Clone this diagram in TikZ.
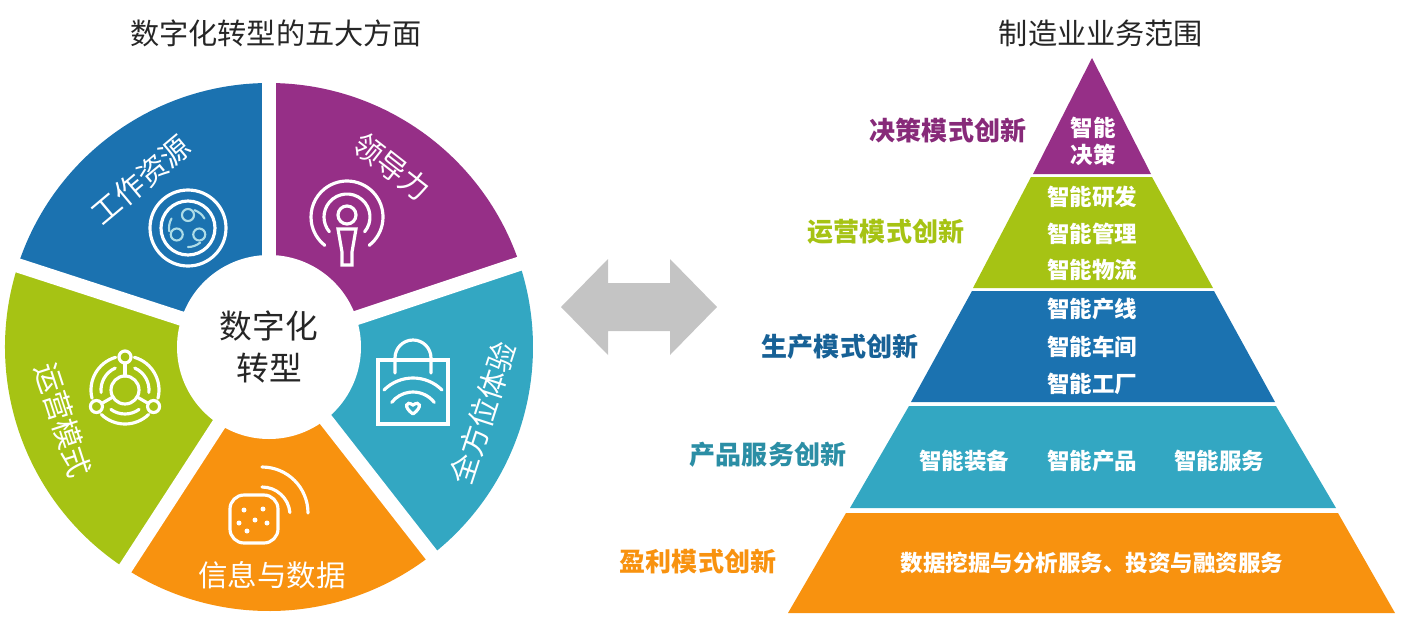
\documentclass[tikz,border=0pt]{standalone}
\usepackage{fontspec}
\setmainfont{Noto Sans CJK SC}
\definecolor{pblue}{HTML}{1B72B0}
\definecolor{ppurple}{HTML}{962F87}
\definecolor{pcyan}{HTML}{33A7C2}
\definecolor{porange}{HTML}{F8920F}
\definecolor{pgreen}{HTML}{A6C314}
\definecolor{pgray}{HTML}{C4C4C4}
\tikzset{
	headlabel/.style={font=\fontsize{8.3}{10}\selectfont, text=black!85},
	slicelabel/.style={font=\fontsize{8.4}{10}\selectfont, text=white},
	sidelabel/.style={font=\fontsize{7.4}{9}\selectfont\bfseries},
	pyrlabel/.style={font=\fontsize{6.4}{8}\selectfont\bfseries, text=white},
	iconline/.style={white, line width=0.9pt, line cap=round}
}
\begin{document}
\begin{tikzpicture}
		\useasboundingbox (0,0) rectangle (14.05,6.31);

		% Titles
		\node[headlabel] (leftTitle) at (2.76,5.98) {数字化转型的五大方面};
		\node[headlabel] (rightTitle) at (11.01,5.98) {制造业业务范围};

		% Wheel slices
		\foreach \ang/\wid/\col in {90/72/pblue, 162/75/pgreen, 237/71/porange, 308/70.4/pcyan, 18.4/71.6/ppurple}
			\fill[\col] (2.69,2.84) -- +(\ang:2.64) arc[start angle=\ang, delta angle=\wid, radius=2.64] -- cycle;
		\foreach \ang in {90,162,237,308,18.4}
			\draw[white, line width=4.1pt] (2.69,2.84) -- +(\ang:2.75);

		% Hub
		\node[circle, fill=white, minimum size=1.84cm, inner sep=0pt, align=center,
			font=\fontsize{9.3}{11.9}\selectfont, text=black!85] (hub) at (2.69,2.84) {数字化\\转型};

		% Slice labels
		\node[slicelabel, rotate=40] (resLabel) at (1.41,4.51) {工作资源};
		\node[slicelabel, rotate=-38] (leadLabel) at (3.92,4.64) {领导力};
		\node[slicelabel, rotate=72] (expLabel) at (4.83,2.18) {全方位体验};
		\node[slicelabel] (infoLabel) at (2.72,0.56) {信息与数据};
		\node[slicelabel, rotate=-72] (opLabel) at (0.63,2.11) {运营模式};

		% Icon: work resources
		\draw[iconline] (1.88,4.03) circle (0.38);
		\draw[iconline] (1.88,4.03) circle (0.27);
		\foreach \ang in {90,210,330} {
			\draw[iconline, pcyan!40!white, line width=0.6pt] (1.88,4.03) +(\ang:0.13) circle (0.06);
			\draw[iconline, pcyan!40!white, line width=0.6pt] (1.88,4.03) +(\ang+60:0.19) arc[start angle=\ang+60, delta angle=40, radius=0.19];
		}

		% Icon: leadership
		\draw[iconline] (3.47,4.14) +(-52:0.36) arc[start angle=-52, end angle=232, radius=0.36];
		\draw[iconline] (3.47,4.14) +(-40:0.23) arc[start angle=-40, end angle=220, radius=0.23];
		\draw[iconline] (3.47,4.16) circle (0.09);
		\draw[iconline] (3.38,4.02) -- (3.56,4.02) -- (3.52,3.79) -- (3.52,3.66) -- (3.42,3.66) -- (3.42,3.79) -- cycle;

		% Icon: operation mode
		\draw[iconline] (1.25,2.41) circle (0.14);
		\foreach \ang in {90,210,330} {
			\draw[iconline] (1.25,2.41) +(\ang:0.14) -- +(\ang:0.27);
			\draw[iconline] (1.25,2.41) +(\ang:0.33) circle (0.06);
			\draw[iconline] (1.25,2.41) +(\ang+24:0.24) arc[start angle=\ang+24, delta angle=72, radius=0.24];
			\draw[iconline] (1.25,2.41) +(\ang+16:0.34) arc[start angle=\ang+16, delta angle=88, radius=0.34];
		}

		% Icon: all-round experience
		\draw[iconline] (3.78,2.07) rectangle (4.48,2.71);
		\draw[iconline] (3.95,2.58) -- (3.95,2.73) arc[start angle=180, end angle=0, radius=0.18] -- (4.31,2.58);
		\draw[iconline] (4.13,2.12) +(45:0.41) arc[start angle=45, end angle=135, radius=0.41];
		\draw[iconline] (4.13,2.12) +(38:0.27) arc[start angle=38, end angle=142, radius=0.27];
		\draw[iconline] (4.13,2.17) .. controls (4.03,2.24) and (4.06,2.31) .. (4.13,2.26) .. controls (4.20,2.31) and (4.23,2.24) .. (4.13,2.17);

		% Icon: information and data
		\draw[iconline, rounded corners=4pt] (2.30,0.88) rectangle (2.78,1.36);
		\draw[iconline] (2.62,1.64) arc[start angle=90, end angle=0, radius=0.46];
		\draw[iconline] (2.62,1.44) arc[start angle=90, end angle=5, radius=0.28];
		\foreach \dx/\dy in {2.44/1.21, 2.63/1.22, 2.55/1.11, 2.67/1.08, 2.47/1.00, 2.39/1.08}
			\fill[white] (\dx,\dy) circle (0.025);

		% Double arrow
		\fill[pgray] (5.61,3.24) -- (6.08,3.72) -- (6.08,3.48) -- (6.70,3.48) -- (6.70,3.72) -- (7.17,3.24)
			-- (6.70,2.76) -- (6.70,3.00) -- (6.08,3.00) -- (6.08,2.76) -- cycle;

		% Pyramid layers
		\fill[ppurple] (10.92,5.73) -- (11.51,4.57) -- (10.33,4.57) -- cycle;
		\fill[pgreen] (10.31,4.54) -- (11.52,4.54) -- (12.13,3.43) -- (9.73,3.43) -- cycle;
		\fill[pblue] (9.72,3.40) -- (12.14,3.40) -- (12.75,2.29) -- (9.11,2.29) -- cycle;
		\fill[pcyan] (9.09,2.25) -- (12.76,2.25) -- (13.36,1.23) -- (8.50,1.23) -- cycle;
		\fill[porange] (8.46,1.18) -- (13.38,1.18) -- (13.95,0.18) -- (7.88,0.18) -- cycle;

		% Pyramid texts
		\node[pyrlabel] (topA) at (10.93,5.03) {智能};
		\node[pyrlabel] (topB) at (10.93,4.76) {决策};
		\node[pyrlabel] (opsA) at (10.92,4.34) {智能研发};
		\node[pyrlabel] (opsB) at (10.92,3.97) {智能管理};
		\node[pyrlabel] (opsC) at (10.92,3.61) {智能物流};
		\node[pyrlabel] (makeA) at (10.92,3.22) {智能产线};
		\node[pyrlabel] (makeB) at (10.92,2.84) {智能车间};
		\node[pyrlabel] (makeC) at (10.92,2.47) {智能工厂};
		\node[pyrlabel] (prodA) at (9.64,1.70) {智能装备};
		\node[pyrlabel] (prodB) at (10.92,1.70) {智能产品};
		\node[pyrlabel] (prodC) at (12.19,1.70) {智能服务};
		\node[pyrlabel] (profit) at (10.92,0.68) {数据挖掘与分析服务、投资与融资服务};

		% Side labels
		\node[sidelabel, text=ppurple!90!black] (decSide) at (9.48,5.00) {决策模式创新};
		\node[sidelabel, text=pgreen] (opsSide) at (8.86,3.99) {运营模式创新};
		\node[sidelabel, text=pblue!85!black] (makeSide) at (8.40,2.84) {生产模式创新};
		\node[sidelabel, text=pcyan!85!black] (prodSide) at (7.68,1.76) {产品服务创新};
		\node[sidelabel, text=porange] (profitSide) at (6.98,0.69) {盈利模式创新};
\end{tikzpicture}
\end{document}
